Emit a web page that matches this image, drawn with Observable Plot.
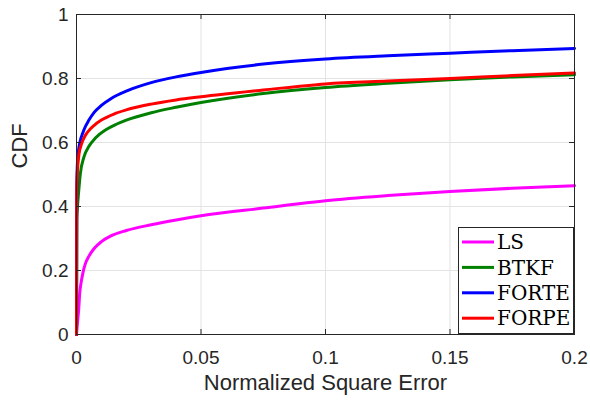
<!DOCTYPE html>
<html>
<head>
<meta charset="utf-8">
<script src="https://cdn.jsdelivr.net/npm/d3@7"></script>
<script src="https://cdn.jsdelivr.net/npm/@observablehq/plot@0.6"></script>
<style>
  html, body { margin: 0; padding: 0; background: #fff; }
  #chart svg { display: block; }
</style>
</head>
<body>
<div id="chart"></div>
<script>
// ---- Data ----
const seriesNames = ["LS", "BTKF", "FORTE", "FORPE"];
const seriesColors = ["#ff00ff", "#008000", "#0000ff", "#ff0000"];

const lsX = [0, 0.0002, 0.0005, 0.0009, 0.0013, 0.0017, 0.0025, 0.0035, 0.005, 0.007, 0.01, 0.0138, 0.02, 0.03, 0.04, 0.05, 0.075, 0.1, 0.125, 0.15, 0.175, 0.2];
const lsY = [0, 0.02, 0.045, 0.08, 0.13, 0.155, 0.19, 0.22, 0.245, 0.268, 0.29, 0.308, 0.325, 0.343, 0.358, 0.371, 0.395, 0.418, 0.434, 0.447, 0.457, 0.465];

const btkfX = [0, 0.0001, 0.0004, 0.0008, 0.0015, 0.003, 0.005, 0.0077, 0.0118, 0.016, 0.02, 0.03, 0.04, 0.05, 0.075, 0.1, 0.125, 0.15, 0.175, 0.2];
const btkfY = [0, 0.36, 0.40, 0.44, 0.50, 0.555, 0.588, 0.615, 0.64, 0.657, 0.67, 0.693, 0.71, 0.725, 0.753, 0.772, 0.785, 0.796, 0.805, 0.812];

const forteX = [0, 0.0001, 0.0004, 0.001, 0.0017, 0.0024, 0.003, 0.005, 0.0071, 0.01, 0.0138, 0.0205, 0.03, 0.04, 0.05, 0.075, 0.1, 0.125, 0.15, 0.175, 0.2];
const forteY = [0, 0.45, 0.54, 0.585, 0.611, 0.627, 0.64, 0.67, 0.694, 0.716, 0.737, 0.762, 0.787, 0.805, 0.819, 0.845, 0.861, 0.871, 0.879, 0.887, 0.894];

const forpeX = [0, 0.0001, 0.0003, 0.0006, 0.001, 0.002, 0.003, 0.0044, 0.007, 0.01, 0.015, 0.02, 0.03, 0.04, 0.05, 0.075, 0.1, 0.125, 0.15, 0.175, 0.2];
const forpeY = [0, 0.45, 0.50, 0.535, 0.564, 0.595, 0.614, 0.632, 0.653, 0.67, 0.689, 0.702, 0.72, 0.733, 0.743, 0.764, 0.783, 0.792, 0.80, 0.809, 0.817];

const xTicks = [0, 0.05, 0.1, 0.15, 0.2];
const xTickLabels = ["0", "0.05", "0.1", "0.15", "0.2"];
const yTicks = [0, 0.2, 0.4, 0.6, 0.8, 1];
const yTickLabels = ["0", "0.2", "0.4", "0.6", "0.8", "1"];
const xLabel = "Normalized Square Error";
const yLabel = "CDF";

// ---- Build table ----
const seriesXs = [lsX, btkfX, forteX, forpeX];
const seriesYs = [lsY, btkfY, forteY, forpeY];
const rows = [];
seriesNames.forEach((name, i) => {
  seriesXs[i].forEach((x, j) => rows.push({series: name, x, y: seriesYs[i][j]}));
});

const W = 590, H = 403;
const mL = 76, mR = 16, mT = 14, mB = 69;
const plotH = H - mT - mB, plotW = W - mL - mR;
const tickLen = 5;
const ink = "#262626";
const sans = "'Liberation Sans', Arial, Helvetica, sans-serif";

const plot = Plot.plot({
  width: W,
  height: H,
  marginLeft: mL,
  marginRight: mR,
  marginTop: mT,
  marginBottom: mB,
  style: {background: "#fff", fontFamily: sans, color: ink},
  x: {domain: [0, 0.2]},
  y: {domain: [0, 1]},
  color: {domain: seriesNames, range: seriesColors},
  marks: [
    Plot.gridX(xTicks, {stroke: "#e3e3e3", strokeOpacity: 1}),
    Plot.gridY(yTicks, {stroke: "#e3e3e3", strokeOpacity: 1}),
    Plot.line(rows, {x: "x", y: "y", z: "series", stroke: "series", strokeWidth: 3, curve: "monotone-x"}),
    Plot.frame({stroke: ink, strokeWidth: 1}),
    // inward ticks on all four sides
    Plot.ruleX(xTicks, {stroke: ink, insetTop: plotH - tickLen}),
    Plot.ruleX(xTicks, {stroke: ink, insetBottom: plotH - tickLen}),
    Plot.ruleY(yTicks, {stroke: ink, insetRight: plotW - tickLen}),
    Plot.ruleY(yTicks, {stroke: ink, insetLeft: plotW - tickLen}),
    Plot.axisX(xTicks, {tickSize: 0, tickPadding: 16, fontSize: 19, fill: ink, label: null,
      tickFormat: (d) => xTickLabels[xTicks.indexOf(d)]}),
    Plot.axisY(yTicks, {tickSize: 0, tickPadding: 8, fontSize: 19, fill: ink, label: null,
      tickFormat: (d) => yTickLabels[yTicks.indexOf(d)]}),
    Plot.text([xLabel], {frameAnchor: "bottom", dy: 55, fontSize: 22, fill: ink, text: (d) => d}),
    Plot.text([yLabel], {frameAnchor: "left", dx: -57, dy: -6, rotate: -90, fontSize: 22, fill: ink, text: (d) => d})
  ]
});

document.getElementById("chart").appendChild(plot);

// ---- Legend (inside plot, lower right) ----
const svg = d3.select(plot);
const legX = 458, legY = 227, legW = 116, legH = 106;
const g = svg.append("g").attr("class", "legend").attr("text-anchor", "start");
g.append("rect").attr("x", legX + 0.5).attr("y", legY + 0.5).attr("width", legW - 1).attr("height", legH)
  .attr("fill", "#fff").attr("stroke", ink).attr("stroke-width", 1);
seriesNames.forEach((name, i) => {
  const cy = 242 + i * 25.4;
  g.append("line").attr("x1", 462).attr("x2", 494).attr("y1", cy).attr("y2", cy)
    .attr("stroke", seriesColors[i]).attr("stroke-width", 3);
  g.append("text").attr("x", 497).attr("y", cy + 7.2).attr("text-anchor", "start")
    .style("font-family", "'DejaVu Serif', 'Liberation Serif', serif").style("font-size", "20px").attr("fill", "#000")
    .text(name);
});
</script>
</body>
</html>
